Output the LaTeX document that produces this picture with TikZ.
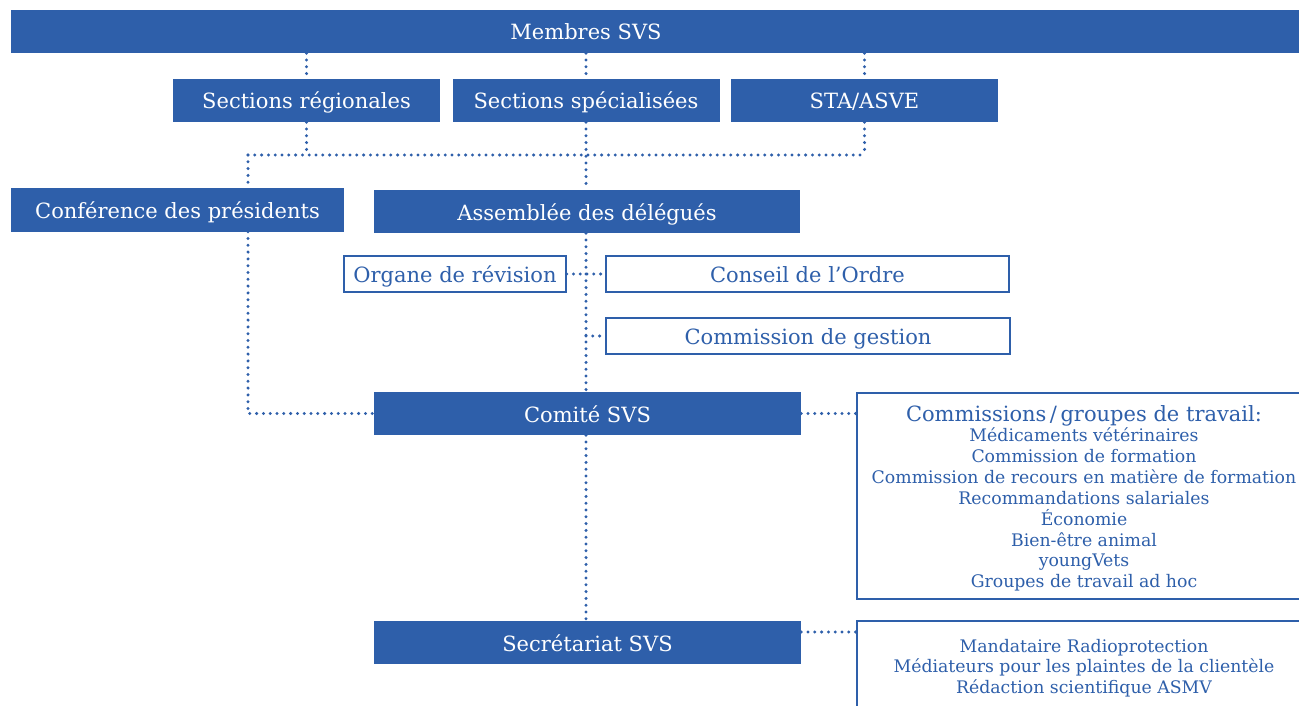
\documentclass[tikz,border=0pt]{standalone}
\usepackage{fontspec}
\setmainfont{DejaVu Serif}
\definecolor{svs}{RGB}{46,95,170}
\begin{document}
\begin{tikzpicture}[x=1pt,y=-1pt,
  bigfont/.style={font=\fontsize{21}{25}\selectfont},
  bluebox/.style={bigfont, fill=svs, text=white, inner sep=0pt, text height=17pt, text depth=0pt, minimum height=43pt},
  whitebox/.style={bigfont, draw=svs, line width=1.2pt, fill=white, text=svs, inner sep=0pt, text height=17pt, text depth=0pt, minimum height=36pt},
  framebox/.style={draw=svs, line width=1.2pt, fill=white, inner sep=0pt},
  wtext/.style={bigfont, text=white, inner sep=0pt, text height=17pt, text depth=0pt},
  itemtext/.style={text=svs, anchor=base, inner sep=0pt, font=\fontsize{17.3}{20}\selectfont},
  titletext/.style={bigfont, text=svs, anchor=base, inner sep=0pt},
  dotc/.style={draw=svs, line width=3.3pt, line cap=round, dash pattern=on 0pt off 6.8pt}]
\useasboundingbox (0,0) rectangle (1299,706);
\begin{scope}
\clip (0,0) rectangle (1299,706);
\fill[white] (0,0) rectangle (1299,706);
% boxes
\node[bluebox, minimum width=1300pt] (membres) at (661,31.5) {};
\node[wtext] (membrestext) at (586,31.5) {Membres SVS};
\node[bluebox, minimum width=267pt] (sreg) at (306.5,100.5) {Sections régionales};
\node[bluebox, minimum width=267pt] (sspec) at (586,100.5) {Sections spécialisées};
\node[bluebox, minimum width=267pt] (sta) at (864.5,100.5) {STA/ASVE};
\node[bluebox, minimum width=333pt] (conf) at (177.5,210) {Conférence des présidents};
\node[bluebox, minimum width=426pt] (assem) at (587,211.5) {Assemblée des délégués};
\node[whitebox, minimum width=222pt] (organe) at (455,274) {Organe de révision};
\node[whitebox, minimum width=403pt] (conseil) at (807.5,274) {Conseil de l’Ordre};
\node[whitebox, minimum width=404pt] (gestion) at (808,336) {Commission de gestion};
\node[bluebox, minimum width=427pt] (comite) at (587.5,413.5) {Comité SVS};
\node[bluebox, minimum width=427pt] (secr) at (587.5,642.5) {Secrétariat SVS};
\node[framebox, minimum width=454pt, minimum height=206pt] (comm) at (1084,496) {};
\node[framebox, minimum width=454pt, minimum height=110pt] (bot) at (1084,676) {};
% texts in commissions box
\node[titletext] (ct) at (1084,421) {Commissions\,/\,groupes de travail:};
\node[itemtext] (c1) at (1084,441) {Médicaments vétérinaires};
\node[itemtext] (c2) at (1084,462) {Commission de formation};
\node[itemtext] (c3) at (1084,483) {Commission de recours en matière de formation};
\node[itemtext] (c4) at (1084,504) {Recommandations salariales};
\node[itemtext] (c5) at (1084,525) {Économie};
\node[itemtext] (c6) at (1084,546) {Bien-être animal};
\node[itemtext] (c7) at (1084,566) {youngVets};
\node[itemtext] (c8) at (1084,587) {Groupes de travail ad hoc};
% texts in bottom box
\node[itemtext] (b1) at (1084,652) {Mandataire Radioprotection};
\node[itemtext] (b2) at (1084,672.5) {Médiateurs pour les plaintes de la clientèle};
\node[itemtext] (b3) at (1084,693) {Rédaction scientifique ASMV};
% connectors
\coordinate (jL) at (248,155);
\coordinate (jR) at (sta.south |- jL);
\coordinate (sb) at (0,632);
\draw[dotc] (sreg.north |- membres.south) -- (sreg.north);
\draw[dotc] (sspec.north |- membres.south) -- (sspec.north);
\draw[dotc] (sta.north |- membres.south) -- (sta.north);
\draw[dotc] (sreg.south) -- (sreg.south |- jL);
\draw[dotc] (sta.south) -- (jR);
\draw[dotc] (jL) -- (jR);
\draw[dotc] (sspec.south) -- (assem.north -| sspec.south);
\draw[dotc] (jL) -- (jL |- conf.north);
\draw[dotc] (jL |- conf.south) -- (jL |- comite.west) -- (comite.west);
\draw[dotc] (assem.south -| sspec.south) -- (comite.north -| sspec.south);
\draw[dotc] (organe.east) -- (conseil.west);
\draw[dotc] (gestion.west -| sspec.south) -- (gestion.west);
\draw[dotc] (comite.east) -- (comite.east -| comm.west);
\draw[dotc] (comite.south -| sspec.south) -- (secr.north -| sspec.south);
\draw[dotc] (secr.east |- sb) -- (bot.west |- sb);
\end{scope}
\end{tikzpicture}
\end{document}
